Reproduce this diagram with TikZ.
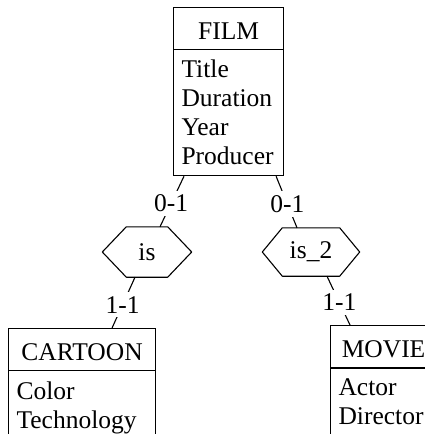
\documentclass[tikz,border=0pt]{standalone}
\usepackage{fontspec}
\setmainfont{Liberation Serif}
\usetikzlibrary{positioning,shapes.multipart}

\newcommand\erfont{\fontsize{25.5pt}{29pt}\selectfont}
\newcommand\headstrut{\rule{0pt}{21pt}}

\begin{document}
\begin{tikzpicture}[
x=1pt,
y=-1pt,
entity/.style={
  draw,
  rectangle split,
  rectangle split parts=2,
  rectangle split part align={center,left},
  align=left,
  inner xsep=8pt,
  inner ysep=10pt,
  line width=1.1pt,
  font=\erfont
  },
rel/.style={
  inner sep=0pt,
  font=\erfont
  },
card/.style={
  fill=white,
  inner sep=4pt,
  pos=0.54,
  font=\erfont
  },
link/.style={
  line width=1.1pt,
  line join=round
  }
]
\useasboundingbox (0,0) rectangle (425,434);
\clip (0,0) rectangle (425,434);

% entities
\node[entity, minimum width=110pt, anchor=north west] at (173,7)
  (film) {\headstrut FILM \nodepart{two} Title\\Duration\\Year\\Producer};
\node[entity, minimum width=147pt, anchor=north west] at (8,328)
  (cartoon) {\headstrut CARTOON \nodepart{two} Color\\Technology};
\node[entity, minimum width=106pt, anchor=north west] at (330,325)
  (movie) {\headstrut MOVIE \nodepart{two} Actor\\Director};

% relationships
\node[rel, minimum width=89pt, minimum height=50pt] at (147,252) (is) {is};
\node[rel, minimum width=97pt, minimum height=48pt] at (311,252) (is2) {is\_2};

\foreach \r/\d in {is/24,is2/20}
  \draw[link] (\r.west) -- ([xshift=\d pt]\r.north west) -- ([xshift=-\d pt]\r.north east)
    -- (\r.east) -- ([xshift=-\d pt]\r.south east) -- ([xshift=\d pt]\r.south west) -- cycle;

% links
\draw[link] ([xshift=11pt]film.south west) -- node[card] {0-1} ([xshift=13pt]is.north);
\draw[link] ([xshift=-8pt]film.south east) -- node[card] {0-1} ([xshift=-14pt]is2.north);
\draw[link] ([xshift=-12pt]is.south) -- node[card] {1-1} ([xshift=30pt]cartoon.north);
\draw[link] ([xshift=16pt]is2.south) -- node[card] {1-1} ([xshift=20pt]movie.north west);

\end{tikzpicture}
\end{document}
